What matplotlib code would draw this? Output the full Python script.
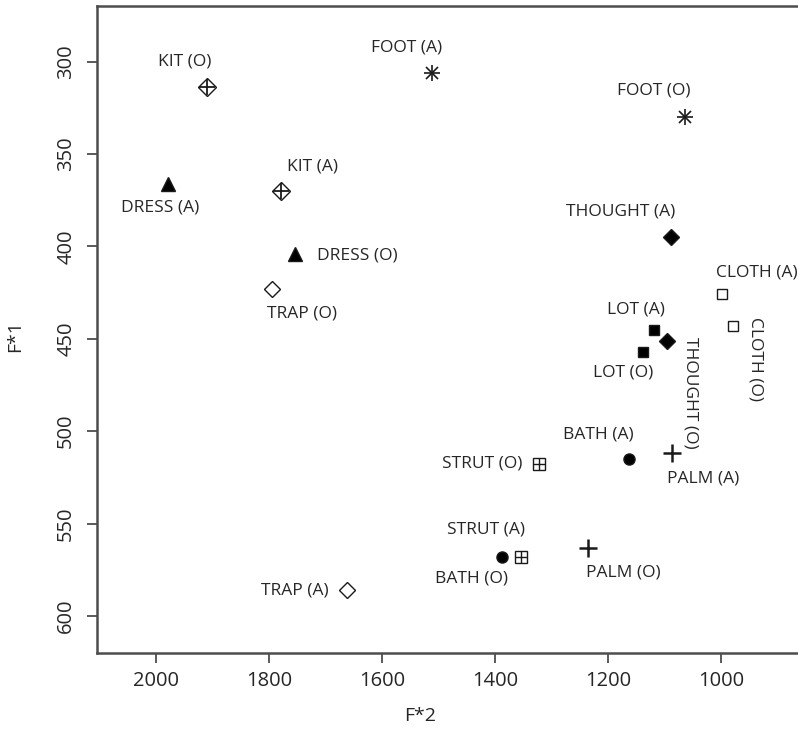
import matplotlib.pyplot as plt

plt.rcParams['font.family'] = ['Open Sans', 'DejaVu Sans']

# vowel formants
labels = ['KIT (O)', 'KIT (A)', 'DRESS (A)', 'DRESS (O)', 'TRAP (O)', 'TRAP (A)',
          'FOOT (A)', 'FOOT (O)', 'THOUGHT (A)', 'THOUGHT (O)', 'CLOTH (A)', 'CLOTH (O)',
          'LOT (A)', 'LOT (O)', 'BATH (A)', 'BATH (O)', 'PALM (A)', 'PALM (O)',
          'STRUT (O)', 'STRUT (A)']
f2 = [1910, 1779, 1979, 1754, 1795, 1662,
      1512, 1064, 1089, 1096, 999, 979,
      1119, 1139, 1163, 1388, 1087, 1236,
      1322, 1354]
f1 = [314, 370, 366, 404, 423, 586,
      306, 330, 395, 451, 426, 443,
      445, 457, 515, 568, 512, 563,
      518, 568]

# marker style per word (R pch look-alikes)
styles = {
    'KIT': [dict(marker='D', mfc='white', ms=9), dict(marker='+', ms=11, mew=1.3)],
    'DRESS': [dict(marker='^', mfc='black', ms=10)],
    'TRAP': [dict(marker='D', mfc='white', ms=8)],
    'FOOT': [dict(marker='+', ms=11, mew=1.2), dict(marker='x', ms=8, mew=1.2)],
    'THOUGHT': [dict(marker='D', mfc='black', ms=8)],
    'CLOTH': [dict(marker='s', mfc='white', ms=7)],
    'LOT': [dict(marker='s', mfc='black', ms=7.5)],
    'BATH': [dict(marker='o', mfc='black', ms=8)],
    'PALM': [dict(marker='+', ms=13, mew=1.8)],
    'STRUT': [dict(marker='s', mfc='white', ms=8), dict(marker='+', ms=8, mew=1)],
}

# label offsets in pixels (dx, dy with y up), alignment, rotation
offsets = {
    'KIT (O)': (-22, 26, 'center', 0), 'KIT (A)': (32, 24, 'center', 0),
    'DRESS (A)': (-8, -24, 'center', 0), 'DRESS (O)': (22, -2, 'left', 0),
    'TRAP (O)': (30, -25, 'center', 0), 'TRAP (A)': (-18, 0, 'right', 0),
    'FOOT (A)': (-25, 25, 'center', 0), 'FOOT (O)': (-32, 26, 'center', 0),
    'THOUGHT (A)': (-50, 26, 'center', 0), 'THOUGHT (O)': (23, -52, 'center', 270),
    'CLOTH (A)': (35, 22, 'center', 0), 'CLOTH (O)': (22, -33, 'center', 270),
    'LOT (A)': (-18, 20, 'center', 0), 'LOT (O)': (-20, -21, 'center', 0),
    'BATH (A)': (-31, 24, 'center', 0), 'BATH (O)': (-31, -22, 'center', 0),
    'PALM (A)': (31, -25, 'center', 0), 'PALM (O)': (35, -25, 'center', 0),
    'STRUT (O)': (-17, 1, 'right', 0), 'STRUT (A)': (-35, 27, 'center', 0),
}

fig = plt.figure(figsize=(7.98, 7.31), dpi=100)
ax = fig.add_axes([0.1216, 0.1067, 0.881, 0.885])

ink = '#1a1a1a'
for lab, x, y in zip(labels, f2, f1):
    word = lab.split()[0]
    for st in styles[word]:
        kw = dict(color=ink, mec=ink, linestyle='none')
        kw.update(st)
        ax.plot(x, y, **kw)
    dx, dy, ha, rot = offsets[lab]
    ax.annotate(lab, (x, y), xytext=(dx, dy), textcoords='offset pixels',
                ha=ha, va='center', rotation=rot, fontsize=12.5, color='#262626')

ax.set_xlim(2104, 861)
ax.set_ylim(620, 270)
ax.set_xticks([2000, 1800, 1600, 1400, 1200, 1000])
ax.set_yticks([300, 350, 400, 450, 500, 550, 600])
for lbl in ax.get_yticklabels():
    lbl.set_rotation(90)
    lbl.set_va('center')
ax.tick_params(direction='out', length=7, width=1.3, colors='#4d4d4d',
               labelcolor='#262626', labelsize=14.5, pad=6)
ax.tick_params(axis='y', pad=8)
for sp in ax.spines.values():
    sp.set_color('#4d4d4d')
    sp.set_linewidth(1.8)

ax.set_xlabel('F*2', fontsize=14, color='#262626')
ax.set_ylabel('F*1', fontsize=14, color='#262626')
ax.xaxis.set_label_coords(0.46, -0.083)
ax.yaxis.set_label_coords(-0.103, 0.49)

fig.savefig('out.png', dpi=100)
